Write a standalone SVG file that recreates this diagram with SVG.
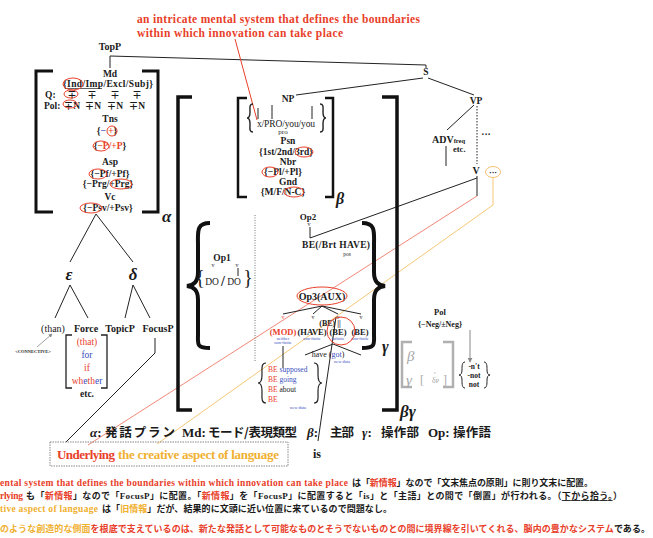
<svg xmlns="http://www.w3.org/2000/svg" width="653" height="538" viewBox="0 0 653 538">
<defs>
<style>
text{font-family:"Liberation Serif","Noto Sans CJK JP",serif;font-weight:bold;font-size:9.5px;fill:#1a1a1a}
.m{text-anchor:middle}
.nw{font-weight:normal}
.r{fill:#e8402a}
.b{fill:#3a4fc0}
.o{fill:#f0b030}
.g{fill:#a8a8a8}
.gr{font-style:italic;font-size:17px}
.jp{font-family:"Noto Sans CJK JP","Liberation Serif",sans-serif;font-size:9px}
.ln{stroke:#222;stroke-width:1;fill:none}
.brk{stroke:#111;stroke-width:3;fill:none}
.ell{stroke:#e8402a;stroke-width:1;fill:none}
.tiny{font-size:4.5px;font-weight:normal;fill:#3a4fc0}
</style>
<marker id="ah" viewBox="0 0 6 6" refX="5" refY="3" markerWidth="5" markerHeight="5" orient="auto"><path d="M0 0 L6 3 L0 6 z" fill="#888"/></marker>
</defs>

<g id="connectors">
<polyline class="ln" points="110,68 110,56 426,65 426,68"/>
<line class="ln" x1="423" y1="78" x2="296" y2="95"/>
<line class="ln" x1="428" y1="78" x2="474" y2="95"/>
<line class="ln" x1="474" y1="105" x2="447" y2="130"/>
<line class="ln" x1="477" y1="106" x2="477" y2="164" stroke-dasharray="1.5 1.5"/>
<line class="ln" x1="446" y1="146" x2="446" y2="166"/>
<line class="ln" x1="477" y1="176" x2="477" y2="196"/>
<line class="ln" x1="477" y1="178" x2="310" y2="238"/>
<line class="ln" x1="310" y1="227" x2="310" y2="238"/>
<line x1="477" y1="196" x2="88" y2="445" stroke="#f08878" stroke-width="1"/>
<polyline points="493,178 493,205 157,444" fill="none" stroke="#f5c878" stroke-width="1"/>
<polyline class="ln" points="155,338 155,353 66,442"/>
<line class="ln" x1="336" y1="317" x2="318" y2="441"/>
<line x1="235" y1="39" x2="257" y2="120" stroke="#e8402a" stroke-width="1"/>
<line class="ln" x1="96" y1="214" x2="70" y2="262"/>
<line class="ln" x1="96" y1="214" x2="133" y2="262"/>
<line class="ln" x1="70" y1="285" x2="55" y2="318"/>
<line class="ln" x1="70" y1="285" x2="88" y2="318"/>
<line class="ln" x1="133" y1="285" x2="125" y2="318"/>
<line class="ln" x1="133" y1="285" x2="150" y2="318"/>
<line x1="37" y1="347" x2="52" y2="334" stroke="#888" stroke-width="0.8" marker-end="url(#ah)"/>
<line x1="470" y1="330" x2="470" y2="362" stroke="#888" stroke-width="1" marker-end="url(#ah)"/>
<line x1="255" y1="215" x2="255" y2="362" stroke="#777" stroke-width="1" stroke-dasharray="1 1.5"/>
<line class="ln" x1="322" y1="306" x2="283" y2="314"/>
<line class="ln" x1="322" y1="306" x2="313" y2="314"/>
<line class="ln" x1="322" y1="306" x2="338" y2="314"/>
<line class="ln" x1="322" y1="306" x2="361" y2="314"/>
<polyline class="ln" points="305,355 333,344 361,355"/>
<line class="ln" x1="283" y1="346" x2="283" y2="368"/>
</g>

<g id="title">
<text x="137" y="23" class="r" textLength="283" style="font-size:11.5px">an intricate mental system that defines the boundaries</text>
<text x="137" y="37" class="r" textLength="206" style="font-size:11.5px">within which innovation can take place</text>
</g>

<g id="topP"><text x="110" y="50" class="m" style="font-size:10px">TopP</text></g>
<g id="S"><text x="426" y="75" class="m">S</text></g>
<g id="VP"><text x="476" y="104" class="m">VP</text></g>
<g id="ADV"><text x="432" y="143" style="font-size:10px">ADV<tspan style="font-size:6.5px">freq</tspan></text><text x="453" y="152" style="font-size:8.5px">etc.</text></g>
<g id="dots"><text x="486" y="138" class="m">···</text></g>
<g id="V"><text x="476" y="174" class="m" style="font-size:10px">V</text>
<text x="493" y="175" class="m" style="font-size:8px">···</text>
<ellipse cx="493" cy="172" rx="7.5" ry="5.5" fill="none" stroke="#f5c070" stroke-width="1"/></g>

<g id="alpha">
<path class="brk" d="M53 71 H36 V212 H53"/>
<path class="brk" d="M142 71 H158 V212 H142"/>
<text x="162" y="222" class="gr">α</text>
<text x="110" y="77" class="m">Md</text>
<text x="108" y="87" class="m" textLength="90">{Ind/Imp/Excl/Subj}</text>
<line x1="65" y1="88.5" x2="102" y2="88.5" stroke="#222" stroke-width="0.7"/>
<ellipse class="ell" cx="73" cy="84" rx="10" ry="6"/>
<text x="45" y="98">Q:</text>
<text x="72" y="98" class="m">∓</text><text x="92" y="98" class="m">∓</text><text x="115" y="98" class="m">∓</text><text x="137" y="98" class="m">∓</text>
<ellipse class="ell" cx="71" cy="94" rx="7" ry="4"/>
<text x="44" y="109">Pol:</text>
<text x="72" y="109" class="m">∓N</text><text x="93" y="109" class="m">∓N</text><text x="115" y="109" class="m">∓N</text><text x="137" y="109" class="m">∓N</text>
<ellipse class="ell" cx="70" cy="104" rx="7" ry="4"/>
<text x="110" y="122" class="m">Tns</text>
<text x="107" y="134" class="m">{<tspan class="b">−</tspan> <tspan class="r">+</tspan>}</text>
<circle class="ell" cx="112" cy="131" r="5"/>
<text x="110" y="149" class="m">{<tspan class="r">−P/+P</tspan>}</text>
<ellipse class="ell" cx="101" cy="146" rx="8" ry="5"/>
<text x="110" y="165" class="m">Asp</text>
<text x="110" y="177" class="m">{−Pf/+Pf}</text>
<ellipse class="ell" cx="98" cy="174" rx="9" ry="5"/>
<text x="108" y="187" class="m">{−Prg/+Prg}</text>
<ellipse class="ell" cx="121" cy="184" rx="11" ry="5"/>
<text x="110" y="200" class="m">Vc</text>
<text x="108" y="211" class="m">{−Psv/+Psv}</text>
<ellipse class="ell" cx="91" cy="208" rx="11" ry="5"/>
</g>

<g id="epsilon"><text x="69" y="280" class="m gr">ε</text></g>
<g id="delta"><text x="133" y="280" class="m gr">δ</text></g>
<g id="than"><text x="53" y="332" class="m nw" style="font-size:10px">(than)</text></g>
<g id="force"><text x="86" y="332" class="m" style="font-size:10px">Force</text>
<path d="M72 335 H66 V388 H72 M101 335 H107 V388 H101" stroke="#222" stroke-width="1.3" fill="none"/>
<text x="87" y="345" class="m nw r">(that)</text>
<text x="87" y="358" class="m nw b">for</text>
<text x="87" y="371" class="m nw r">if</text>
<text x="87" y="384" class="m nw"><tspan class="r">wh</tspan><tspan class="b">e</tspan><tspan class="r">th</tspan><tspan class="b">er</tspan></text>
<text x="87" y="397" class="m">etc.</text></g>
<g id="topicP"><text x="120" y="332" class="m" style="font-size:10px">TopicP</text></g>
<g id="focusP"><text x="158" y="332" class="m" style="font-size:10px">FocusP</text></g>
<g id="connective"><text x="33" y="353" class="m" style="font-size:4.5px">&lt;CONNECTIVE&gt;</text></g>

<g id="betagamma">
<path class="brk" d="M192 97 H178 V410 H192" style="stroke-width:3.5"/>
<path class="brk" d="M382 97 H397 V410 H382" style="stroke-width:3.5"/>
<text x="400" y="417" class="gr">βγ</text>
</g>

<g id="NP">
<path class="brk" d="M247 98 H238 V197 H247" style="stroke-width:2.5"/>
<path class="brk" d="M325 98 H333 V197 H325" style="stroke-width:2.5"/>
<text x="336" y="204" class="gr" style="font-size:16px">β</text>
<text x="288" y="102" class="m">NP</text>
<path d="M253 104 C249 104 250 108 250 112 C250 116 249 118 247 118 C249 118 250 120 250 124 C250 128 249 132 253 132" stroke="#222" stroke-width="1.4" fill="none"/>
<path d="M320 104 C324 104 323 108 323 112 C323 116 324 118 326 118 C324 118 323 120 323 124 C323 128 324 132 320 132" stroke="#222" stroke-width="1.4" fill="none"/>
<line class="ln" x1="258" y1="108" x2="258" y2="119"/>
<line class="ln" x1="272" y1="105" x2="272" y2="119"/>
<line class="ln" x1="312" y1="106" x2="312" y2="119"/>
<text x="286" y="127" class="m nw" textLength="58">x/PRO/you/you</text>
<text x="283" y="134" class="m nw" style="font-size:7px">pro</text>
<text x="288" y="144" class="m">Psn</text>
<text x="286" y="155" class="m">{1st/2nd/3rd}</text>
<ellipse class="ell" cx="304" cy="152" rx="9" ry="5"/>
<text x="288" y="165" class="m">Nbr</text>
<text x="283" y="175" class="m">{−Pl/+Pl}</text>
<ellipse class="ell" cx="270" cy="172" rx="8" ry="5"/>
<text x="288" y="185" class="m">Gnd</text>
<text x="283" y="195" class="m">{M/F/N-C}</text>
<ellipse class="ell" cx="294" cy="192" rx="10" ry="5"/>
</g>

<g id="Op1">
<path d="M210 223 C196 223 198 232 198 245 L198 272 C198 282 194 285 187 286 C194 287 198 290 198 300 L198 334 C198 344 196 348 210 348" stroke="#111" stroke-width="4" fill="none"/>
<path d="M362 223 C376 223 374 232 374 245 L374 272 C374 282 378 285 385 286 C378 287 374 290 374 300 L374 334 C374 344 376 348 362 348" stroke="#111" stroke-width="4" fill="none"/>
<text x="382" y="352" class="gr" style="font-size:16px">γ</text>
<text x="222" y="261" class="m">Op1</text>
<text x="213" y="267" class="m nw" style="font-size:6px">v</text>
<text x="237" y="267" class="m nw" style="font-size:6px">v</text>
<line class="ln" x1="238" y1="268" x2="238" y2="276"/>
<text x="200" y="284" class="m nw" style="font-size:20px">{</text>
<text x="248" y="284" class="m nw" style="font-size:20px">}</text>
<text x="212" y="285" class="m nw">DO</text>
<text x="223" y="286" class="m" style="font-size:14px">/</text>
<text x="234" y="285" class="m nw">DO</text>
</g>

<g id="Op2">
<text x="308" y="220" class="m" style="font-size:9px">Op2</text>
<text x="309" y="226" class="m nw" style="font-size:6px">v</text>
<text x="302" y="248" textLength="68">BE(/Brt HAVE)</text>
<text x="347" y="256" class="m nw" style="font-size:5.5px">pos</text>
</g>

<g id="Op3">
<text x="322" y="300" class="m" style="font-size:10px">Op3(AUX)</text>
<ellipse class="ell" cx="322" cy="296" rx="25" ry="9"/>
<text x="283" y="319" class="m nw r" style="font-size:6px">v</text>
<text x="313" y="319" class="m nw" style="font-size:6px">v</text>
<text x="338" y="319" class="m nw" style="font-size:6px">v</text>
<text x="361" y="319" class="m nw" style="font-size:6px">v</text>
<text x="330" y="326" class="m" style="font-size:8px">(BE) ||</text>
<text x="283" y="335" class="m r" style="font-size:8.5px">(MOD)</text>
<text x="312" y="335" class="m" style="font-size:8.5px">(HAVE)</text>
<text x="338" y="335" class="m" style="font-size:8.5px">(BE)</text>
<text x="360" y="335" class="m" style="font-size:8.5px">(BE)</text>
<text x="283" y="340" class="m tiny">neither</text>
<text x="283" y="344" class="m tiny">non-finite</text>
<text x="312" y="340" class="m tiny">non-finite</text>
<text x="338" y="340" class="m tiny">infinite</text>
<text x="360" y="340" class="m tiny">non-finite</text>
<circle class="ell" cx="341" cy="331" r="14"/>
<text x="328" y="357" class="m nw" style="font-size:8px">have (<tspan class="b">got</tspan>)</text>
<text x="342" y="363" class="m tiny">new data</text>
<path d="M266 363 C261 363 262 368 262 375 C262 380 261 383 258 383 C261 383 262 386 262 391 C262 398 261 403 266 403" stroke="#222" stroke-width="1.2" fill="none"/>
<path d="M314 363 C319 363 318 368 318 375 C318 380 319 383 322 383 C319 383 318 386 318 391 C318 398 319 403 314 403" stroke="#222" stroke-width="1.2" fill="none"/>
<text x="268" y="372" class="nw" style="font-size:7.5px"><tspan class="r">BE</tspan> <tspan class="b">supposed</tspan></text>
<text x="268" y="382" class="nw" style="font-size:7.5px"><tspan class="r">BE</tspan> <tspan class="b">going</tspan></text>
<text x="268" y="392" class="nw" style="font-size:7.5px"><tspan class="r">BE</tspan> about</text>
<text x="268" y="402" class="nw r" style="font-size:7.5px">BE</text>
<text x="298" y="409" class="m tiny">new data</text>
</g>

<g id="Pol">
<text x="440" y="315" class="m" style="font-size:8.5px">Pol</text>
<text x="440" y="327" class="m" style="font-size:8px">{−Neg/±Neg}</text>
<path d="M465 362 C462 362 462 366 462 370 C462 373 461 375 459 375 C461 375 462 377 462 380 C462 384 462 388 465 388" stroke="#222" stroke-width="1" fill="none"/>
<path d="M484 362 C487 362 487 366 487 370 C487 373 488 375 490 375 C488 375 487 377 487 380 C487 384 487 388 484 388" stroke="#222" stroke-width="1" fill="none"/>
<text x="474" y="369" class="m" style="font-size:7.5px">-n't</text>
<text x="474" y="378" class="m" style="font-size:7.5px">-not</text>
<text x="474" y="387" class="m" style="font-size:7.5px">not</text>
</g>

<g id="grayBracket">
<path d="M412 342 H402 V387 H412 M443 342 H453 V387 H443" stroke="#b0b0b0" stroke-width="2.5" fill="none"/>
<text x="407" y="361" class="g gr nw" style="font-size:15px">β</text>
<text x="406" y="385" class="g gr nw" style="font-size:15px">γ</text>
<text x="420" y="384" class="g nw" style="font-size:12px">[</text>
<text x="435" y="374" class="m g nw" style="font-size:4.5px">ε</text>
<text x="432" y="383" class="g nw" style="font-size:8px">δ<tspan style="font-size:6px">P</tspan></text>
<text x="443" y="384" class="g nw" style="font-size:12px">]</text>
</g>

<g id="legend">
<text x="90" y="437" style="font-size:13px"><tspan font-style="italic">α</tspan>:</text>
<text x="105" y="437" class="jp" style="font-size:12.5px;font-weight:bold" textLength="70">発話プラン</text>
<text x="182" y="437" style="font-size:13px">Md:</text>
<text x="208" y="437" class="jp" style="font-size:12.5px;font-weight:bold" textLength="89">モード/表現類型</text>
<text x="307" y="437" style="font-size:13px"><tspan font-style="italic">β</tspan>:</text>
<text x="330" y="437" class="jp" style="font-size:12.5px;font-weight:bold" textLength="24">主部</text>
<text x="362" y="437" style="font-size:13px"><tspan font-style="italic">γ</tspan>:</text>
<text x="381" y="437" class="jp" style="font-size:12.5px;font-weight:bold" textLength="38">操作部</text>
<text x="428" y="437" style="font-size:13px">Op:</text>
<text x="453" y="437" class="jp" style="font-size:12.5px;font-weight:bold" textLength="38">操作語</text>
</g>

<g id="underlying">
<rect x="50" y="442" width="238" height="24" fill="none" stroke="#888" stroke-width="1" stroke-dasharray="1.5 1"/>
<text x="57" y="459" class="r" style="font-size:13px" textLength="58">Underlying</text>
<text x="118" y="459" class="o" style="font-size:13px" textLength="161">the creative aspect of language</text>
</g>
<g id="is"><text x="313" y="458" style="font-size:12px">is</text></g>

<g id="notes">
<text x="0" y="486" class="r" textLength="348">ental system that defines the boundaries within which innovation can take place</text>
<text x="352" y="486" class="jp" textLength="241">は「<tspan class="r">新情報</tspan>」なので「文末焦点の原則」に則り文末に配置。</text>
<text x="0" y="499" class="r" textLength="23">rlying</text>
<text x="26" y="499" class="jp" textLength="596">も「<tspan class="r">新情報</tspan>」なので「<tspan font-family="Liberation Serif">FocusP</tspan>」に配置。「<tspan class="r">新情報</tspan>」を「<tspan font-family="Liberation Serif">FocusP</tspan>」に配置すると「<tspan font-family="Liberation Serif">is</tspan>」と「主語」との間で「倒置」が行われる。（<tspan text-decoration="underline">下から拾う。</tspan>）</text>
<text x="0" y="512" class="o" textLength="98">tive aspect of language</text>
<text x="102" y="512" class="jp" textLength="290">は「<tspan class="o">旧情報</tspan>」だが、結果的に文頭に近い位置に来ているので問題なし。</text>
<text x="0" y="532" class="jp" textLength="650"><tspan class="o">のような創造的な側面</tspan><tspan class="r">を根底で支えているのは、新たな発話として可能なものとそうでないものとの間に境界線を引いてくれる、脳内の豊かなシステム</tspan>である。</text>
</g>
</svg>
